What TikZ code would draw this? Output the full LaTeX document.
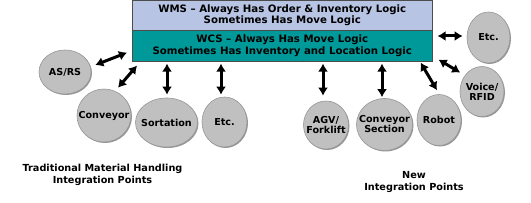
\documentclass[tikz,border=0pt]{standalone}
\usepackage{fontspec}
\setmainfont{DejaVu Sans}
\usetikzlibrary{shapes.geometric,arrows.meta,calc,shadows}
\definecolor{wmsfill}{RGB}{184,196,228}
\definecolor{wcsfill}{RGB}{0,153,153}
\definecolor{circfill}{RGB}{192,192,192}
\definecolor{circedge}{RGB}{150,150,150}
\begin{document}
\begin{tikzpicture}[x=1pt,y=-1pt,
  every node/.style={font=\bfseries\fontsize{9.6}{11}\selectfont, align=center},
  circ/.style={ellipse, fill=circfill, draw=circedge, line width=0.6pt, inner sep=-12pt,
    drop shadow={shadow xshift=1pt, shadow yshift=-1pt, fill=circedge, opacity=1}},
  bar/.style={rectangle, draw=black!70, line width=0.6pt, minimum width=300pt, inner sep=0pt,
    font=\bfseries\fontsize{10.2}{11.5}\selectfont},
  dbl/.style={line width=3pt, {Latex[length=8pt,width=10pt]}-{Latex[length=8pt,width=10pt]}},
  lbl/.style={font=\bfseries\fontsize{9.7}{12}\selectfont}]
\useasboundingbox (0,0) rectangle (531,203);
% system boxes
\node[bar, fill=wmsfill, minimum height=30pt, anchor=north west] (wms) at (132,0)
  {WMS – Always Has Order \& Inventory Logic\\Sometimes Has Move Logic};
\node[bar, fill=wcsfill, minimum height=31pt, anchor=north west] (wcs) at (132,30)
  {WCS – Always Has Move Logic\\Sometimes Has Inventory and Location Logic};
% equipment
\node[circ, minimum width=52pt, minimum height=44pt] (asrs) at (65,72) {AS/RS};
\node[circ, minimum width=54pt, minimum height=53pt] (conv) at (104,115.5) {Conveyor};
\node[circ, minimum width=62pt, minimum height=49pt] (sort) at (166.5,122.5) {Sortation};
\node[circ, minimum width=45pt, minimum height=50pt] (etcl) at (224.5,122) {Etc.};
\node[circ, minimum width=45pt, minimum height=48pt] (agv) at (326,125) {AGV/\\[-1pt]Forklift};
\node[circ, minimum width=56pt, minimum height=52pt] (csec) at (384.5,124.5) {Conveyor\\[-1pt]Section};
\node[circ, minimum width=44pt, minimum height=51pt] (robot) at (439,120) {Robot};
\node[circ, minimum width=44pt, minimum height=50pt] (voice) at (482,91.5) {Voice/\\[-1pt]RFID};
\node[circ, minimum width=43pt, minimum height=51pt] (etcr) at (488.5,37.5) {Etc.};
% captions
\node[lbl] (trad) at (102.5,175) {Traditional Material Handling\\Integration Points};
\node[lbl] (new) at (414,182) {New\\Integration Points};
% connectors
\draw[dbl] ($(asrs.east)+(4,-7)$) -- ($(wcs.south west)+(-5,-9)$);
\draw[dbl] ($(conv.north)+(14,-1)$) -- ($(wcs.south west)+(5,4)$);
\draw[dbl] ($(wcs.south -| sort.north)+(0.5,2)$) -- ($(sort.north)+(0.5,-3)$);
\draw[dbl] ($(wcs.south -| etcl.north)+(-3.5,2)$) -- ($(etcl.north)+(-3.5,-2)$);
\draw[dbl] ($(wcs.south -| agv.north)+(-3,2)$) -- ($(agv.north)+(-3,-5)$);
\draw[dbl] ($(wcs.south -| csec.north)+(-2.5,2)$) -- ($(csec.north)+(-2.5,-1)$);
\draw[dbl] ($(wcs.south east)+(-12,1)$) -- ($(robot.north)+(-2,-4)$);
\draw[dbl] ($(wcs.south east)+(6,-2)$) -- ($(voice.north west)+(-6,-1)$);
\draw[dbl] ($(wcs.north east)+(5,6)$) -- ($(etcr.west)+(-4,-1.5)$);
\end{tikzpicture}
\end{document}
